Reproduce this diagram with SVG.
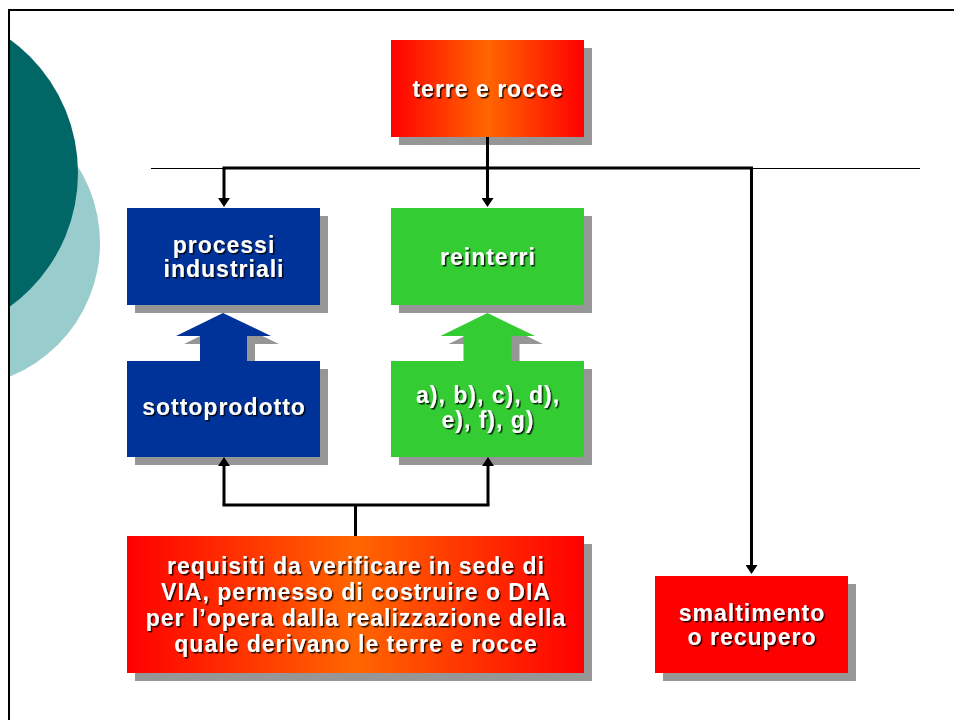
<svg xmlns="http://www.w3.org/2000/svg" width="954" height="720" viewBox="0 0 954 720">
<defs>
  <linearGradient id="orangeGrad" x1="0" y1="0" x2="1" y2="0">
    <stop offset="0" stop-color="#FF0000"/>
    <stop offset="0.5" stop-color="#FF6600"/>
    <stop offset="1" stop-color="#FF0000"/>
  </linearGradient>
  <clipPath id="leftClip"><rect x="9" y="10" width="300" height="710"/></clipPath>
  <filter id="txtShadow" x="-10%" y="-20%" width="120%" height="140%">
    <feDropShadow dx="1.5" dy="1.5" stdDeviation="0.4" flood-color="#000000" flood-opacity="0.85"/>
  </filter>
  <marker id="arrow" markerUnits="userSpaceOnUse" viewBox="0 0 9 12" markerWidth="9" markerHeight="12" refX="2" refY="6" orient="auto">
    <path d="M0,0 L9,6 L0,12 z" fill="#000"/>
  </marker>
  <style>
    .shadow { fill: #969696; }
    .blue { fill: #003399; }
    .green { fill: #33CC33; }
    .grad { fill: url(#orangeGrad); }
    .red { fill: #FF0000; }
    .lbl { font-family: "Liberation Sans", Arial, sans-serif; font-weight: bold; font-size: 23px; letter-spacing: 1px; fill: #FFFFFF; text-anchor: middle; filter: url(#txtShadow); }
    .conn { fill: none; stroke: #000; stroke-width: 3; }
    .thin { fill: none; stroke: #000; stroke-width: 1; }
  </style>
</defs>

<rect x="0" y="0" width="954" height="720" fill="#FFFFFF"/>

<!-- decorative circles -->
<g id="decor" clip-path="url(#leftClip)">
  <circle cx="-44" cy="243" r="144" fill="#99CCCC"/>
  <circle cx="-87" cy="173" r="165" fill="#006666"/>
</g>
<!-- frame -->
<path d="M9,720 V10 H954" fill="none" stroke="#000" stroke-width="2"/>

<!-- block arrows -->
<g id="arrow-sottoprodotto">
  <polygon class="shadow" points="231,321 279,344 255,344 255,369 208,369 208,344 184,344"/>
  <polygon class="blue" points="223,313 271,336 247,336 247,361 200,361 200,336 176,336"/>
</g>
<g id="arrow-reinterri">
  <polygon class="shadow" points="495.5,321 543,344 519.5,344 519.5,369 471.5,369 471.5,344 448.5,344"/>
  <polygon class="green" points="487.5,313 535,336 511.5,336 511.5,361 463.5,361 463.5,336 440.5,336"/>
</g>

<g id="node-terre">
  <rect class="shadow" x="399" y="48" width="193" height="97"/>
  <rect class="grad" x="391" y="40" width="193" height="97"/>
  <text class="lbl" x="488" y="97">terre e rocce</text>
</g>

<g id="node-processi">
  <rect class="shadow" x="135" y="216" width="193" height="97"/>
  <rect class="blue" x="127" y="208" width="193" height="97"/>
  <text class="lbl" x="224" y="253">processi</text>
  <text class="lbl" x="224" y="277">industriali</text>
</g>

<g id="node-reinterri">
  <rect class="shadow" x="399" y="216" width="193" height="97"/>
  <rect class="green" x="391" y="208" width="193" height="97"/>
  <text class="lbl" x="488" y="265">reinterri</text>
</g>

<g id="node-sottoprodotto">
  <rect class="shadow" x="135" y="369" width="193" height="96"/>
  <rect class="blue" x="127" y="361" width="193" height="96"/>
  <text class="lbl" x="224" y="415">sottoprodotto</text>
</g>

<g id="node-lettere">
  <rect class="shadow" x="399" y="369" width="193" height="96"/>
  <rect class="green" x="391" y="361" width="193" height="96"/>
  <text class="lbl" x="488" y="403">a), b), c), d),</text>
  <text class="lbl" x="488" y="428">e), f), g)</text>
</g>

<g id="node-requisiti">
  <rect class="shadow" x="135" y="544" width="457" height="137"/>
  <rect class="grad" x="127" y="536" width="457" height="137"/>
  <text class="lbl" x="356" y="574">requisiti da verificare in sede di</text>
  <text class="lbl" x="356" y="600">VIA, permesso di costruire o DIA</text>
  <text class="lbl" x="356" y="626">per l’opera dalla realizzazione della</text>
  <text class="lbl" x="356" y="652">quale derivano le terre e rocce</text>
</g>

<g id="node-smaltimento">
  <rect class="shadow" x="663" y="584" width="193" height="97"/>
  <rect class="red" x="655" y="576" width="193" height="97"/>
  <text class="lbl" x="752" y="621">smaltimento</text>
  <text class="lbl" x="752" y="645">o recupero</text>
</g>

<!-- connectors -->
<g id="connectors">
  <line class="thin" x1="151" y1="168.5" x2="920" y2="168.5"/>
  <path class="conn" d="M487.5,137 V168 M222.5,168 H753"/>
  <path class="conn" d="M224,168 V200" marker-end="url(#arrow)"/>
  <path class="conn" d="M487.5,168 V200" marker-end="url(#arrow)"/>
  <path class="conn" d="M751.5,168 V567" marker-end="url(#arrow)"/>
  <path class="conn" d="M355.5,536 V505 M222.5,505 H489.5"/>
  <path class="conn" d="M224,505 V464" marker-end="url(#arrow)"/>
  <path class="conn" d="M488,505 V464" marker-end="url(#arrow)"/>
</g>
</svg>
